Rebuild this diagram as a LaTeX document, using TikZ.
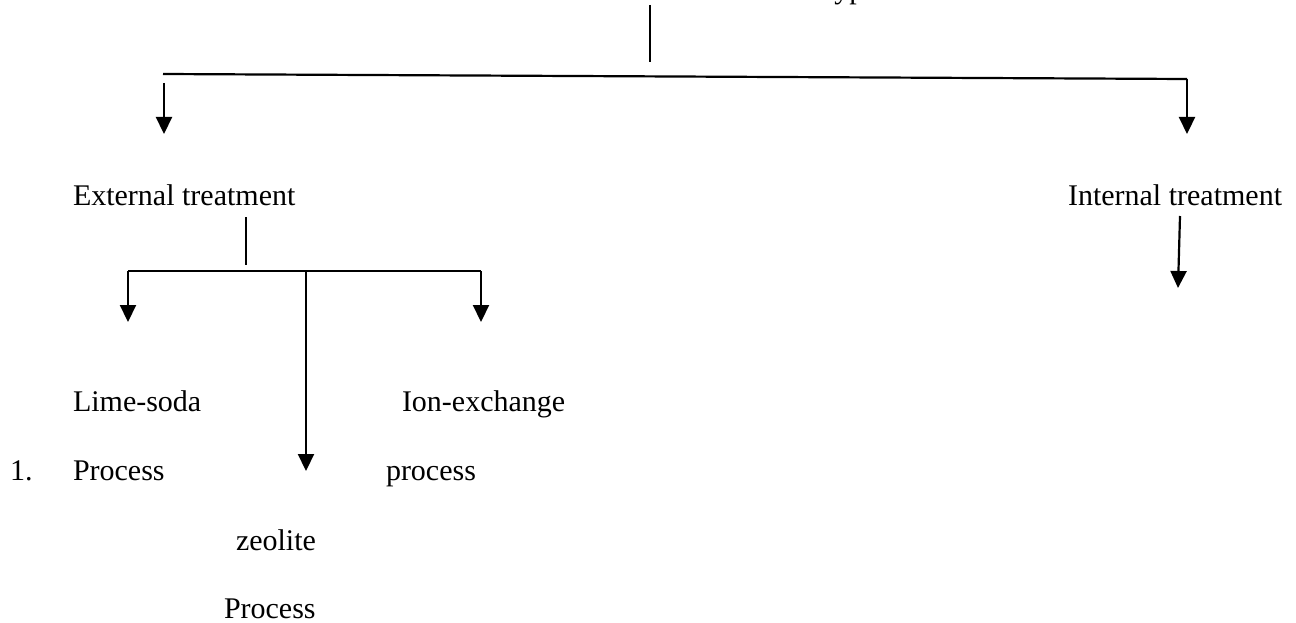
\documentclass[tikz,border=0pt]{standalone}
\usepackage{fontspec}
\setmainfont{Liberation Serif}
\usetikzlibrary{arrows.meta}
\tikzset{
  lbl/.style={anchor=base west, inner sep=0pt, outer sep=0pt, font=\fontsize{30}{36}\selectfont},
  ln/.style={line width=2.2pt, line cap=butt},
  arr/.style={ln, -{Triangle[width=16pt,length=17pt]}}
}
\begin{document}
\begin{tikzpicture}[x=1pt,y=-1pt]
\useasboundingbox (0,0) rectangle (1296,623);
\clip (0,0) rectangle (1296,623);
% title (cut off at the top edge)
\node[lbl] (title) at (818,-1.5) {Types};
% level 1
\node[lbl] (ext) at (73,205) {External treatment};
\node[lbl] (int) at (1068,205) {Internal treatment};
% level 2
\node[lbl] (lime) at (73,411) {Lime-soda};
\node[lbl] (num) at (10,480) {1.};
\node[lbl] (limep) at (73,480) {Process};
\node[lbl] (ion) at (402,411) {Ion-exchange};
\node[lbl] (ionp) at (386,480) {process};
\node[lbl] (zeo) at (236,550) {zeolite};
\node[lbl] (zeop) at (224,618) {Process};
% connector points
\coordinate (t1) at (650,5);
\coordinate (t2) at (650,62);
\coordinate (hl) at (163,74);
\coordinate (hr) at (1187,79);
\coordinate (la0) at (164,83);
\coordinate (la1) at (164,134);
\coordinate (ra1) at (1187,134);
\coordinate (ia0) at (1180,216);
\coordinate (ia1) at (1178,288);
\coordinate (e1) at (246,217);
\coordinate (e2) at (246,265);
\coordinate (bl) at (128,271);
\coordinate (bm) at (306,271);
\coordinate (br) at (481,271);
\coordinate (bla) at (128,322);
\coordinate (bma) at (306,471);
\coordinate (bra) at (481,322);
% top level
\draw[ln] (t1) -- (t2);
\draw[ln] (hl) -- (hr);
\draw[arr] (la0) -- (la1);
\draw[arr] (hr) -- (ra1);
\draw[arr] (ia0) -- (ia1);
% external subtree
\draw[ln] (e1) -- (e2);
\draw[ln] (bl) -- (br);
\draw[arr] (bl) -- (bla);
\draw[arr] (bm) -- (bma);
\draw[arr] (br) -- (bra);
\end{tikzpicture}
\end{document}
